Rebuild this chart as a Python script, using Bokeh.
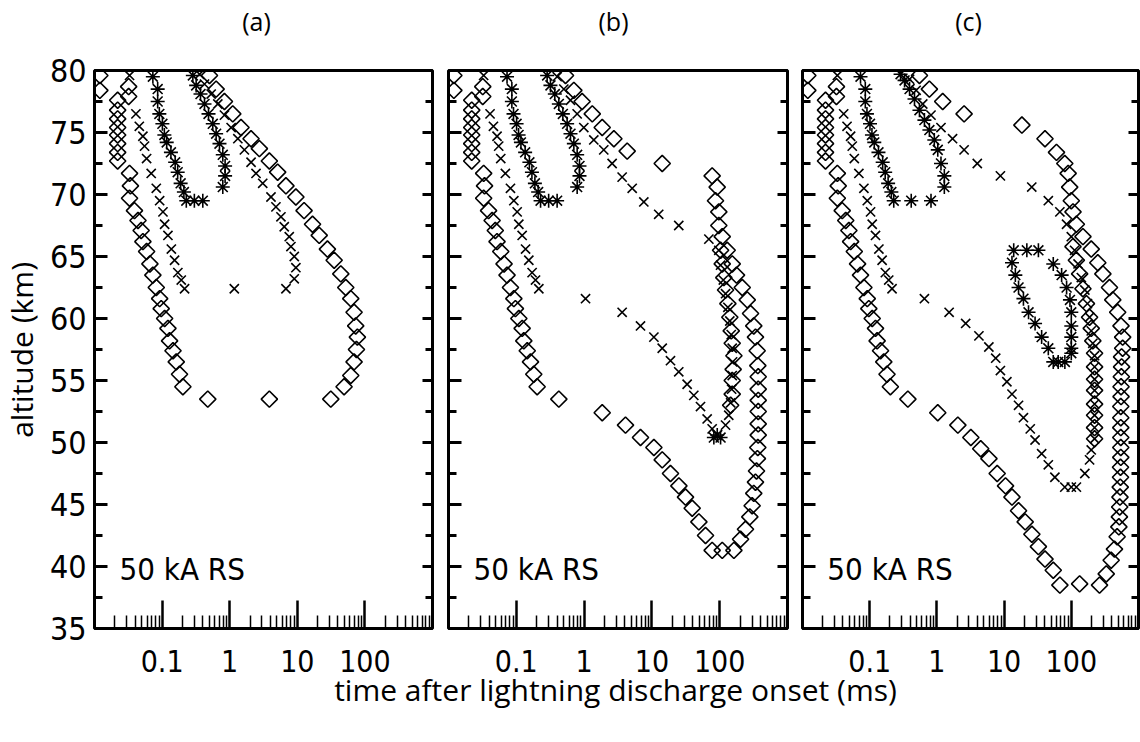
import math
from bokeh.plotting import figure
from bokeh.models import Range1d, FixedTicker, LinearAxis, Label
from bokeh.layouts import row, column
from bokeh.embed import file_html
from bokeh.resources import INLINE

# ---------------- axes / labels ----------------
PANEL_TITLES = ["(a)", "(b)", "(c)"]
X_LABEL = "time after lightning discharge onset (ms)"
Y_LABEL = "altitude (km)"
ANNOT = "50 kA RS"
X_TICKS = [0.1, 1, 10, 100]
X_TICK_LABELS = ["0.1", "1", "10", "100"]
X_MINOR = [0.02, 0.03, 0.04, 0.05, 0.06, 0.07, 0.08, 0.09,
           0.2, 0.3, 0.4, 0.5, 0.6, 0.7, 0.8, 0.9,
           2, 3, 4, 5, 6, 7, 8, 9,
           20, 30, 40, 50, 60, 70, 80, 90,
           200, 300, 400, 500, 600, 700, 800, 900]
Y_TICKS = [35, 40, 45, 50, 55, 60, 65, 70, 75, 80]
Y_TICK_LABELS = ["35", "40", "45", "50", "55", "60", "65", "70", "75", "80"]
Y_MINOR = [37.5, 42.5, 47.5, 52.5, 57.5, 62.5, 67.5, 72.5, 77.5]

# ---------------- data: contours common to all panels ----------------
dia_left_t = [0.012, 0.012, 0.032, 0.032, 0.022, 0.022, 0.022, 0.022, 0.022, 0.022, 0.022, 0.022,
              0.033, 0.034, 0.033, 0.039, 0.044, 0.049, 0.052, 0.059, 0.066, 0.073, 0.082, 0.092,
              0.097, 0.109, 0.122, 0.129, 0.145, 0.162, 0.181, 0.203]
dia_left_alt = [79.6, 78.4, 78.7, 77.9, 77.6, 76.8, 76.1, 75.4, 74.8, 74.1, 73.4, 72.7,
                71.7, 70.7, 69.7, 68.7, 67.9, 67.1, 66.2, 65.4, 64.4, 63.5, 62.5, 61.6,
                60.8, 60.0, 59.2, 58.2, 57.4, 56.5, 55.5, 54.5]
x_left_t = [0.033, 0.041, 0.046, 0.052, 0.055, 0.059, 0.069, 0.082, 0.092, 0.103, 0.109, 0.122,
            0.137, 0.153, 0.171, 0.192, 0.215]
x_left_alt = [79.6, 76.5, 75.5, 74.7, 73.9, 72.9, 71.7, 70.5, 69.5, 68.6, 67.6, 66.7,
              65.6, 64.7, 63.7, 63.1, 62.4]
ast_left_t = [0.073, 0.086, 0.086, 0.091, 0.101, 0.108, 0.117, 0.135, 0.156, 0.170, 0.188, 0.21, 0.228]
ast_left_alt = [79.5, 78.5, 77.5, 76.5, 75.7, 74.8, 74.2, 73.4, 72.6, 71.8, 70.9, 70.2, 69.5]

# asterisk contour closure, panels (a) and (b)
ast_ab_t = [0.30, 0.40, 0.79, 0.855, 0.855, 0.79, 0.706, 0.63, 0.562, 0.486, 0.424, 0.37, 0.319, 0.285]
ast_ab_alt = [69.5, 69.5, 70.6, 71.5, 72.3, 73.2, 74.1, 74.9, 75.7, 76.5, 77.3, 78.1, 78.8, 79.6]

# ---------------- panel (a) ----------------
dia_a_t = [0.474, 3.86, 31.3, 49.2, 61.8, 69.2, 75.0, 77.4, 73.1, 69.2, 61.8, 52.1, 44.0, 35.1,
           27.9, 21.1, 16.8, 12.6, 9.53, 6.79, 5.12, 3.86, 2.75, 2.07, 1.47, 1.11, 0.836, 0.63, 0.502]
dia_a_alt = [53.5, 53.5, 53.5, 54.5, 55.4, 56.5, 57.5, 58.5, 59.4, 60.5, 61.6, 62.5, 63.6, 64.7,
             65.6, 66.7, 67.6, 68.7, 69.8, 70.7, 71.8, 72.7, 73.7, 74.5, 75.4, 76.5, 77.5, 78.5, 79.6]
x_a_t = [1.17, 6.79, 9.02, 9.53, 9.02, 8.05, 7.60, 6.41, 5.73, 4.83, 4.08, 3.08, 2.45, 2.07,
         1.65, 1.32, 1.05, 0.836, 0.667, 0.532, 0.424, 0.358]
x_a_alt = [62.4, 62.4, 63.2, 64.1, 65.0, 65.8, 66.6, 67.4, 68.2, 69.0, 69.8, 70.9, 71.7, 72.6,
           73.6, 74.5, 75.4, 76.4, 77.3, 78.1, 78.9, 79.7]

# ---------------- panel (b) ----------------
dia_b_upper_t = [0.532, 0.706, 0.935, 1.32, 1.85, 2.75, 4.32, 14.2]
dia_b_upper_alt = [79.6, 78.4, 77.5, 76.5, 75.4, 74.5, 73.5, 72.5]
dia_b_inner_t = [77.4, 91.8, 86.7, 97, 97, 109, 103, 109, 115, 122, 132, 141, 148, 153, 162,
                 158, 153, 153, 145]
dia_b_inner_alt = [71.5, 70.6, 69.5, 68.6, 67.5, 66.6, 65.5, 64.4, 63.3, 62.3, 61.2, 60.1, 59.0,
                   58.0, 57.0, 55.9, 55.0, 53.9, 53.0]
dia_b_outer_t = [129, 153, 177, 215, 255, 285, 318, 337, 357, 365, 370, 370, 370, 370, 370, 370,
                 365, 360, 349, 337, 318, 301, 278, 240, 203, 162, 109, 77.4, 61.8, 49.3, 39.3,
                 31.3, 25.0, 18.8, 14.2, 10.7, 6.79, 4.08, 1.85, 0.424]
dia_b_outer_alt = [65.5, 64.4, 63.5, 62.5, 61.5, 60.4, 59.4, 58.5, 57.4, 56.2, 55.3, 54.3, 53.4,
                   52.5, 51.5, 50.6, 49.6, 48.7, 47.7, 46.8, 45.9, 44.9, 44.0, 43.0, 42.2, 41.3,
                   41.3, 41.3, 42.5, 43.6, 44.7, 45.6, 46.5, 47.5, 48.6, 49.6, 50.4, 51.4, 52.4, 53.5]
x_b_right_t = [0.401, 0.502, 0.63, 0.79, 0.99, 1.39, 1.95, 2.59, 3.64, 5.12, 7.6, 12.6, 24.9,
               69.2, 97, 103, 113, 122, 132, 141, 148, 153, 155, 153, 150, 145, 136, 122]
x_b_right_alt = [79.5, 78.5, 77.6, 76.5, 75.4, 74.4, 73.6, 72.5, 71.4, 70.5, 69.4, 68.4, 67.5,
                 66.4, 65.5, 64.3, 63.1, 62.0, 60.9, 59.8, 58.7, 57.6, 56.5, 55.4, 54.3, 53.2,
                 52.2, 51.4]
x_b_left_t = [1.05, 3.64, 6.79, 10.7, 14.2, 18.8, 24.9, 33.1, 41.5, 52.1, 65.3, 77.4]
x_b_left_alt = [61.6, 60.5, 59.4, 58.5, 57.6, 56.6, 55.7, 54.7, 53.8, 52.9, 51.9, 51.1]
ast_b_t = [82, 92, 103]
ast_b_alt = [50.4, 50.6, 50.4]

# ---------------- panel (c) ----------------
ast_c_t = [0.415, 0.817, 1.29, 1.29, 1.15, 1.03, 0.915, 0.773, 0.652, 0.55, 0.464, 0.392, 0.33, 0.288]
ast_c_alt = [69.5, 69.5, 70.6, 71.5, 72.5, 73.6, 74.4, 75.2, 76.0, 76.8, 77.7, 78.5, 79.2, 79.7]
dia_c_upper_t = [0.55, 0.773, 1.22, 2.54, 18.4, 40.6, 60.2, 80, 89.8, 94.6, 100, 106, 119, 149,
                 198, 248, 295, 370, 414, 490, 549, 581, 581]
dia_c_upper_alt = [79.6, 78.5, 77.5, 76.5, 75.6, 74.5, 73.4, 72.5, 71.7, 70.6, 69.5, 68.6, 67.6,
                   66.6, 65.6, 64.5, 63.6, 62.5, 61.5, 60.5, 59.4, 58.5, 57.6]
dia_c_outer_t = [560, 560, 555, 550, 550, 545, 545, 545, 545, 545, 545, 540, 540, 535, 530, 525,
                 520, 510, 481, 439, 392, 331, 263, 133, 67.6, 53.9, 40.6, 32.4, 25.9, 20.6, 16.4,
                 13.1, 10.5, 7.89, 5.95, 4.49, 3.2, 2.05, 1.03, 0.37]
dia_c_outer_alt = [56.9, 56.1, 55.3, 54.5, 53.7, 52.9, 52.0, 51.2, 50.4, 49.6, 48.8, 48.0, 47.2,
                   46.4, 45.6, 44.8, 44.0, 43.2, 42.4, 41.4, 40.5, 39.4, 38.5, 38.6, 38.5, 39.7,
                   40.6, 41.6, 42.6, 43.6, 44.5, 45.6, 46.5, 47.5, 48.7, 49.5, 50.4, 51.4, 52.4, 53.5]
dia_c_inner_t = [106, 119, 133, 149, 168, 187, 198, 209, 222, 222, 222, 222, 222, 222, 222, 222]
dia_c_inner_alt = [65.8, 64.7, 63.6, 62.4, 61.2, 60.1, 59.2, 58.2, 57.2, 56.1, 55.1, 54.2, 53.1,
                   52.2, 51.2, 50.3]
x_c_right_t = [0.392, 0.491, 0.616, 0.817, 1.15, 1.71, 2.54, 3.99, 8.81, 25.8, 45.5, 67.6, 85,
               100, 112, 126, 141, 159, 174, 187, 198, 209, 222, 222, 222, 222, 222, 222, 222,
               222, 198, 187, 159, 119, 100, 80]
x_c_right_alt = [79.3, 78.4, 77.3, 76.4, 75.4, 74.5, 73.6, 72.5, 71.5, 70.6, 69.5, 68.6, 67.6,
                 66.6, 65.5, 64.4, 63.3, 62.3, 61.2, 60.1, 59.0, 58.0, 57.0, 56.1, 55.1, 54.2,
                 53.1, 52.2, 51.2, 50.3, 49.4, 48.6, 47.5, 46.4, 46.4, 46.4]
x_c_left_t = [0.652, 1.52, 2.68, 4.22, 5.93, 7.5, 8.81, 11.0, 13.1, 16.4, 19.4, 24.5, 28.9, 36.2,
              45.5, 57]
x_c_left_alt = [61.6, 60.5, 59.6, 58.6, 57.7, 56.8, 55.8, 54.9, 53.9, 53.0, 52.0, 51.1, 50.2,
                49.1, 48.2, 47.2]
ast_c_loop_t = [13.9, 21.8, 32.4, 13.1, 14.7, 16.4, 19.4, 23.1, 28.9, 36.2, 45.5, 53.9, 63.8,
                80.2, 100, 100, 100, 100, 100, 95.5, 85.1, 71.8, 53.9]
ast_c_loop_alt = [65.5, 65.5, 65.5, 64.5, 63.5, 62.5, 61.6, 60.5, 59.6, 58.5, 57.6, 56.5, 56.5,
                  56.5, 57.2, 57.6, 58.5, 59.4, 60.5, 61.5, 62.5, 63.5, 64.4]

PANELS = [
    {"dia": [(dia_left_t, dia_left_alt), (dia_a_t, dia_a_alt)],
     "x": [(x_left_t, x_left_alt), (x_a_t, x_a_alt)],
     "ast": [(ast_left_t, ast_left_alt), (ast_ab_t, ast_ab_alt)]},
    {"dia": [(dia_left_t, dia_left_alt), (dia_b_upper_t, dia_b_upper_alt),
             (dia_b_inner_t, dia_b_inner_alt), (dia_b_outer_t, dia_b_outer_alt)],
     "x": [(x_left_t, x_left_alt), (x_b_right_t, x_b_right_alt), (x_b_left_t, x_b_left_alt)],
     "ast": [(ast_left_t, ast_left_alt), (ast_ab_t, ast_ab_alt), (ast_b_t, ast_b_alt)]},
    {"dia": [(dia_left_t, dia_left_alt), (dia_c_upper_t, dia_c_upper_alt),
             (dia_c_outer_t, dia_c_outer_alt), (dia_c_inner_t, dia_c_inner_alt)],
     "x": [(x_left_t, x_left_alt), (x_c_right_t, x_c_right_alt), (x_c_left_t, x_c_left_alt)],
     "ast": [(ast_left_t, ast_left_alt), (ast_c_t, ast_c_alt), (ast_c_loop_t, ast_c_loop_alt)]},
]

NARROW = "Liberation Sans Narrow, DejaVu Sans Condensed, Roboto, sans-serif"
PLAIN = "Open Sans, Noto Sans, sans-serif"

TOP_H = 40          # strip with the panel letters
BORDER_TOP = 30     # frame top = 70 px from page top
BORDER_BOTTOM = 57
FIG_H = BORDER_TOP + 558 + BORDER_BOTTOM
YLAB_W = 46


def style_y_axis(ax, labels, tick_in, minor_in):
    ax.ticker = FixedTicker(ticks=Y_TICKS, minor_ticks=Y_MINOR)
    ax.major_label_overrides = {v: lab for v, lab in zip(Y_TICKS, labels)}
    ax.axis_line_color = None
    ax.major_tick_in = tick_in
    ax.major_tick_out = 0
    ax.minor_tick_in = minor_in
    ax.minor_tick_out = 0
    ax.major_tick_line_width = 3
    ax.minor_tick_line_width = 3
    ax.major_tick_line_color = "black"
    ax.minor_tick_line_color = "black"
    ax.major_label_text_font = NARROW
    ax.major_label_text_font_size = "32px"
    ax.major_label_text_color = "black"
    ax.major_label_standoff = 8


def make_panel(idx, width, mbl, mbr):
    p = figure(width=width, height=FIG_H, x_axis_type="log",
               x_range=Range1d(0.01, 1000), y_range=Range1d(35, 80),
               toolbar_location=None, output_backend="svg",
               min_border_left=mbl, min_border_right=mbr,
               min_border_top=BORDER_TOP, min_border_bottom=BORDER_BOTTOM)
    p.grid.visible = False
    p.outline_line_color = "black"
    p.outline_line_width = 3
    p.outline_line_alpha = 1.0

    xa = p.xaxis[0]
    xa.ticker = FixedTicker(ticks=X_TICKS, minor_ticks=X_MINOR)
    xa.major_label_overrides = {v: lab for v, lab in zip(X_TICKS, X_TICK_LABELS)}
    xa.axis_line_color = None
    xa.major_tick_in = 28
    xa.major_tick_out = 0
    xa.minor_tick_in = 13
    xa.minor_tick_out = 0
    xa.major_tick_line_width = 2.5
    xa.minor_tick_line_width = 1.5
    xa.major_label_text_font = NARROW
    xa.major_label_text_font_size = "30px"
    xa.major_label_text_color = "black"
    xa.major_label_standoff = 21

    ya = p.yaxis[0]
    if idx == 0:
        style_y_axis(ya, Y_TICK_LABELS, 13, 8)
    else:
        style_y_axis(ya, [""] * len(Y_TICKS), 13, 8)
        ya.major_label_standoff = 0

    ra = LinearAxis()
    style_y_axis(ra, [""] * len(Y_TICKS), 10, 7)
    ra.major_label_standoff = 0
    p.add_layout(ra, "right")

    series = PANELS[idx]
    for t, a in series["dia"]:
        p.scatter(t, a, marker="square", angle=math.pi / 4, size=11.5,
                  fill_color=None, line_color="black", line_width=1.6)
    for t, a in series["x"]:
        p.scatter(t, a, marker="x", size=13, line_color="black", line_width=1.6)
    for t, a in series["ast"]:
        p.scatter(t, a, marker="asterisk", size=14, line_color="black", line_width=1.6)

    p.add_layout(Label(x=0.0234, y=39.8, text=ANNOT, text_font=NARROW,
                       text_font_size="31px", text_color="black",
                       text_baseline="alphabetic", text_align="left"))
    return p


pa = make_panel(0, 440 - YLAB_W, 93 - YLAB_W, 8)
pb = make_panel(1, 355, 8, 8)
pc = make_panel(2, 345, 7, 2)


def strip(width, height, margin=None):
    s = figure(width=width, height=height, x_range=Range1d(0, width), y_range=Range1d(0, height),
               toolbar_location=None, output_backend="svg", min_border=0,
               x_axis_location=None, y_axis_location=None)
    s.grid.visible = False
    s.outline_line_color = None
    s.background_fill_color = None
    s.border_fill_color = None
    if margin is not None:
        s.margin = margin
    return s


# panel letters above the frames
top = strip(1140, TOP_H)
for txt, xc in zip(PANEL_TITLES, [256, 613, 968]):
    top.add_layout(Label(x=xc, y=TOP_H - 20, text=txt, text_font=PLAIN,
                         text_font_size="25px", text_color="black",
                         text_align="center", text_baseline="middle"))

# vertical axis title, left of panel (a)
yl = strip(YLAB_W, FIG_H)
yl.add_layout(Label(x=21, y=FIG_H - 323, text=Y_LABEL, text_font=PLAIN,
                    text_font_size="30px", text_color="black", angle=math.pi / 2,
                    text_align="center", text_baseline="middle"))

# shared x-axis title below the three panels (overlapping the empty space
# under the tick labels)
OVERLAP = 31
LAB_H = 64
bottom = strip(1140, LAB_H, margin=(-OVERLAP, 0, 0, 0))
bottom.add_layout(Label(x=615, y=LAB_H - 35, text=X_LABEL, text_font=PLAIN,
                        text_font_size="30px", text_color="black",
                        text_align="center", text_baseline="alphabetic"))

layout = column(top, row(yl, pa, pb, pc, spacing=0), bottom, spacing=0)
open("out.html", "w").write(file_html(layout, INLINE))
